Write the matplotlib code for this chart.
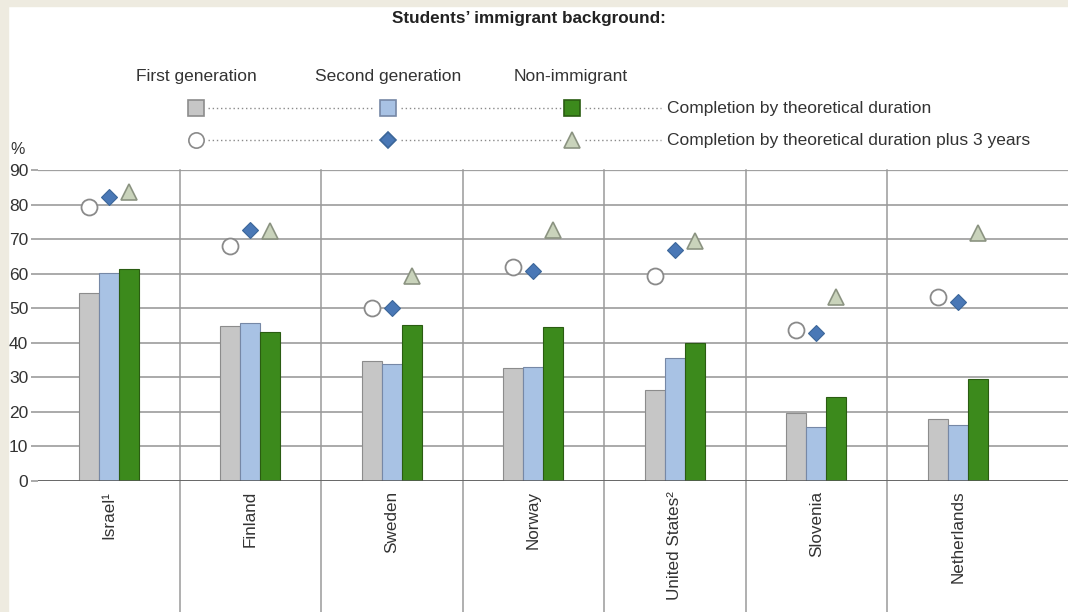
import numpy as np
import matplotlib.pyplot as plt
from matplotlib.lines import Line2D
from matplotlib.patches import Rectangle

countries = ['Israel¹', 'Finland', 'Sweden', 'Norway', 'United States²', 'Slovenia', 'Netherlands']

# completion by theoretical duration (bars)
first_gen = [54.5, 44.8, 34.8, 32.6, 26.3, 19.6, 17.8]
second_gen = [60.3, 45.6, 34.0, 32.9, 35.6, 15.7, 16.3]
non_immigrant = [61.4, 43.0, 45.2, 44.6, 39.8, 24.4, 29.6]

# completion by theoretical duration plus 3 years (markers)
first_gen_3y = [79.2, 68.0, 50.0, 61.8, 59.3, 43.7, 53.3]
second_gen_3y = [82.3, 72.6, 50.0, 60.9, 66.8, 42.7, 51.9]
non_immigrant_3y = [83.7, 72.3, 59.3, 72.6, 69.5, 53.3, 71.8]

yticks = [0, 10, 20, 30, 40, 50, 60, 70, 80, 90]

GREY = '#c6c6c6'
BLUE = '#a8c2e4'
GREEN = '#3c8a1c'
DIAMOND = '#4a78b6'
TRI = '#c9d3bb'
TXT = '#333333'
FONT = ['Liberation Sans', 'DejaVu Sans']

W, H = 1068, 612
fig = plt.figure(figsize=(W / 100, H / 100), dpi=100)
fig.patch.set_facecolor('white')

# beige frame on left and top
fig.add_artist(Rectangle((0, 0), 8 / W, 1, transform=fig.transFigure, color='#eeebe0', zorder=0))
fig.add_artist(Rectangle((0, 1 - 6 / H), 1, 6 / H, transform=fig.transFigure, color='#eeebe0', zorder=0))

left, bottom, top = 38 / W, (H - 481) / H, (H - 170) / H
ax = fig.add_axes([left, bottom, 1 - left, top - bottom])
ax.set_facecolor('none')

x = np.arange(len(countries))
bw = 0.1413
ax.bar(x - bw, first_gen, bw, color=GREY, edgecolor='#8c8c8c', linewidth=0.8, zorder=3)
ax.bar(x, second_gen, bw, color=BLUE, edgecolor='#7688a6', linewidth=0.8, zorder=3)
ax.bar(x + bw, non_immigrant, bw, color=GREEN, edgecolor='#2a5c12', linewidth=0.8, zorder=3)

ax.plot(x - bw, first_gen_3y, 'o', ms=11.5, mfc='white', mec='#8a8a8a', mew=1.3, zorder=4)
ax.plot(x, second_gen_3y, 'D', ms=8.5, mfc=DIAMOND, mec='#3c6699', mew=0.8, zorder=4)
ax.plot(x + bw, non_immigrant_3y, '^', ms=12, mfc=TRI, mec='#8b9381', mew=1.2, zorder=4)

ax.set_xlim(-0.5, -0.5 + (W - 38) / 141.5)
ax.set_ylim(0, 90)
ax.set_yticks(yticks)
ax.set_yticklabels([str(v) for v in yticks], family=FONT, fontsize=12.5, color=TXT)
ax.tick_params(axis='y', length=5, width=1.3, color='#a4a4a4', pad=2)
ax.yaxis.grid(True, color='#a4a4a4', linewidth=1.3, zorder=1)
ax.axhline(0, color='#555555', linewidth=1.8, zorder=5)
ax.axhline(90, color='#8a8a8a', linewidth=1.6, zorder=1)

ax.set_xticks(x)
ax.set_xticklabels(countries, rotation=90, family=FONT, fontsize=12.3, color=TXT)
ax.tick_params(axis='x', length=0, pad=7)
for s in ax.spines.values():
    s.set_visible(False)

# separators running down through the label area
ymin = -bottom / (top - bottom)
for xs in x[:-1] + 0.5:
    ax.axvline(xs, ymin=ymin, ymax=1, color='#9a9a9a', linewidth=1.1, clip_on=False, zorder=2)

fig.text(18 / W, 1 - 150 / H, '%', family=FONT, fontsize=11.5, color=TXT, ha='center', va='center')


# legend block
def fx(px):
    return px / W


def fy(py):
    return 1 - py / H


fig.text(fx(529), fy(18), 'Students\u2019 immigrant background:', family=FONT, fontsize=12.3,
         fontweight='bold', color='#222222', ha='center', va='center')
for cx, lab in zip([196, 388, 571], ['First generation', 'Second generation', 'Non-immigrant']):
    fig.text(fx(cx), fy(76), lab, family=FONT, fontsize=12.5, color=TXT, ha='center', va='center')

rows = [
    (108, [('s', GREY, '#8c8c8c', 12), ('s', BLUE, '#7688a6', 12), ('s', GREEN, '#2a5c12', 12)],
     'Completion by theoretical duration'),
    (140, [('o', 'white', '#8a8a8a', 11), ('D', DIAMOND, '#3c6699', 8.5), ('^', TRI, '#8b9381', 12)],
     'Completion by theoretical duration plus 3 years'),
]
for ry, marks, lab in rows:
    for x0, x1 in [(208, 373), (401, 561), (585, 661)]:
        fig.add_artist(Line2D([fx(x0), fx(x1)], [fy(ry), fy(ry)], transform=fig.transFigure,
                              color='#8a8a8a', linestyle=(0, (1, 2)), linewidth=1))
    for cx, (m, fc, ec, ms) in zip([196, 388, 572], marks):
        fig.add_artist(Line2D([fx(cx)], [fy(ry)], transform=fig.transFigure, marker=m, ms=ms,
                              mfc=fc, mec=ec, mew=1.2, linestyle='none'))
    fig.text(fx(667), fy(ry), lab, family=FONT, fontsize=12.5, color=TXT, ha='left', va='center')

fig.savefig('out.png', dpi=100, facecolor=fig.get_facecolor())
